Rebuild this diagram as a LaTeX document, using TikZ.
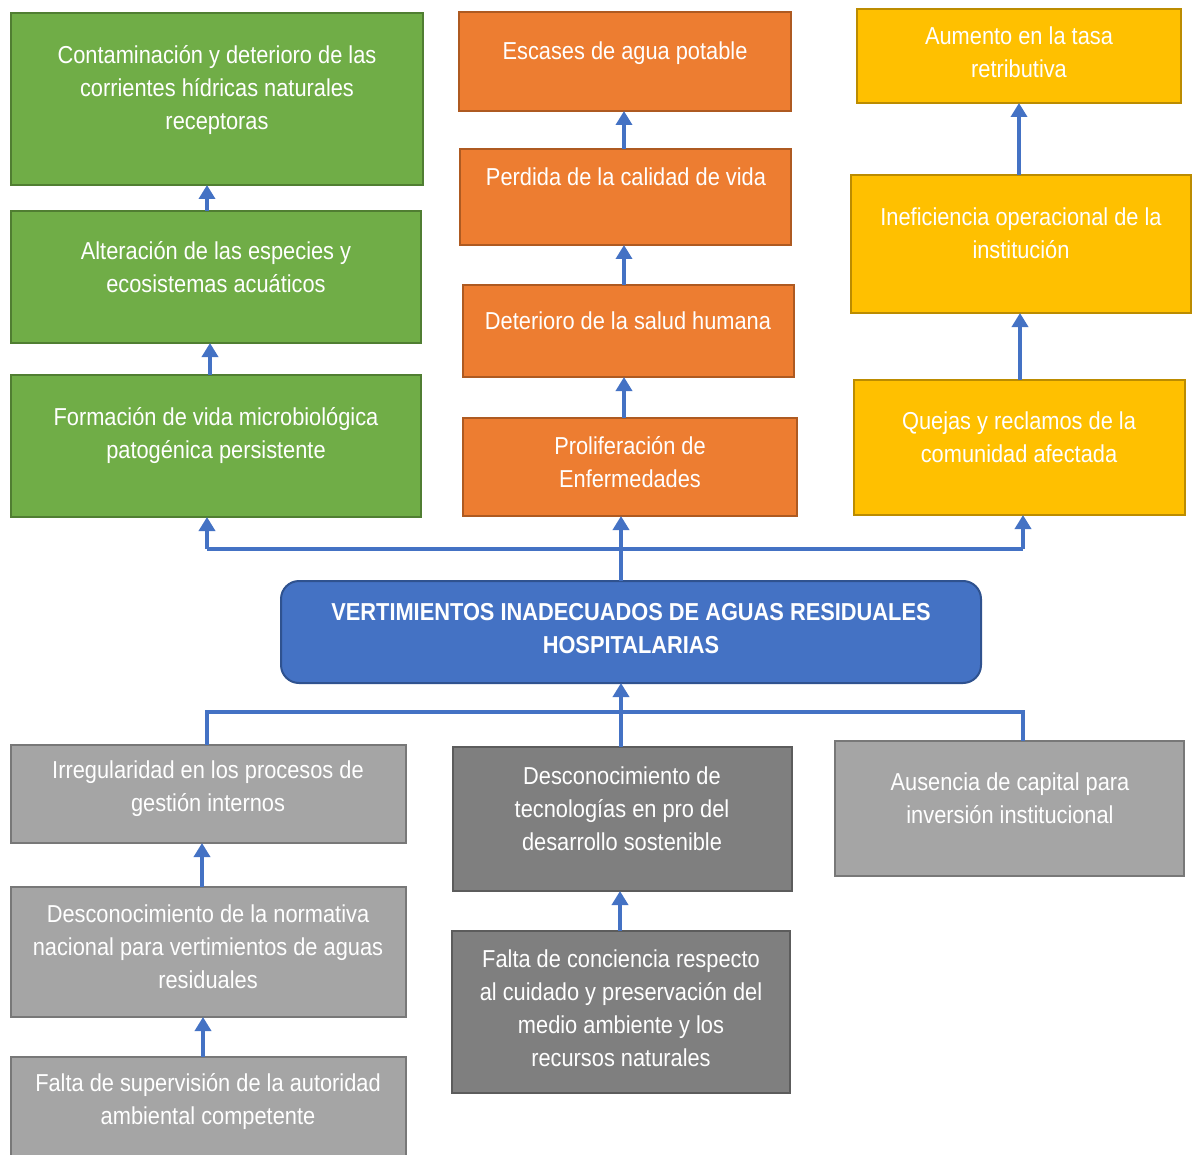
\documentclass[tikz,border=0pt]{standalone}
\usepackage{fontspec}
\setmainfont{Liberation Sans}[FakeStretch=0.89]
\usetikzlibrary{arrows.meta}
\definecolor{gfill}{HTML}{70AD47}\definecolor{gline}{HTML}{507E32}
\definecolor{ofill}{HTML}{ED7D31}\definecolor{oline}{HTML}{AE5A21}
\definecolor{yfill}{HTML}{FFC000}\definecolor{yline}{HTML}{BC8C00}
\definecolor{bfill}{HTML}{4472C4}\definecolor{bline}{HTML}{2F528F}
\definecolor{lgfill}{HTML}{A5A5A5}\definecolor{lgline}{HTML}{787878}
\definecolor{dgfill}{HTML}{7F7F7F}\definecolor{dgline}{HTML}{5C5C5C}
\definecolor{conncol}{HTML}{4472C4}
\tikzset{
  box/.style={draw, line width=2pt, inner sep=0pt, outer sep=0pt},
  green/.style={box, fill=gfill, draw=gline},
  orange/.style={box, fill=ofill, draw=oline},
  yellow/.style={box, fill=yfill, draw=yline},
  lgrey/.style={box, fill=lgfill, draw=lgline},
  dgrey/.style={box, fill=dgfill, draw=dgline},
  central/.style={box, fill=bfill, draw=bline, rounded corners=18pt},
  txt/.style={text=white, align=center, inner sep=0pt, font=\fontsize{24.5}{33}\selectfont},
  btxt/.style={txt, font=\fontsize{24.5}{33}\selectfont\bfseries},
  conn/.style={draw=conncol, line width=3.5pt},
  arr/.style={conn, -{Triangle[width=16pt,length=14pt]}},
}
\newcommand{\mybox}[6]{%
  \node[#2, minimum width={#5-#3}, minimum height={#6-#4}] (#1) at ({(#3+#5)/2},{(#4+#6)/2}) {};}
\begin{document}
\begin{tikzpicture}[x=1pt,y=-1pt]
\useasboundingbox (0,0) rectangle (1193,1155);
\clip (0,0) rectangle (1193,1155);
% green column
\mybox{g1}{green}{11}{13}{423}{185}
\mybox{g2}{green}{11}{211}{421}{343}
\mybox{g3}{green}{11}{375}{421}{517}
\node[txt] (tg1) at (217,90) {Contaminación y deterioro de las\\corrientes hídricas naturales\\receptoras};
\node[txt] (tg2) at (216,267) {Alteración de las especies y\\ecosistemas acuáticos};
\node[txt] (tg3) at (216,436) {Formación de vida microbiológica\\patogénica persistente};
% orange column
\mybox{o1}{orange}{459}{12}{791}{111}
\mybox{o2}{orange}{460}{149}{791}{245}
\mybox{o3}{orange}{463}{285}{794}{377}
\mybox{o4}{orange}{463}{418}{797}{516}
\node[txt] (to1) at (625,53) {Escases de agua potable};
\node[txt] (to2) at (626,177) {Perdida de la calidad de vida};
\node[txt] (to3) at (628,321) {Deterioro de la salud humana};
\node[txt] (to4) at (630,462) {Proliferación de\\Enfermedades};
% yellow column
\mybox{y1}{yellow}{857}{9}{1181}{103}
\mybox{y2}{yellow}{851}{175}{1191}{313}
\mybox{y3}{yellow}{854}{380}{1185}{515}
\node[txt] (ty1) at (1019,52) {Aumento en la tasa\\retributiva};
\node[txt] (ty2) at (1021,233) {Ineficiencia operacional de la\\institución};
\node[txt] (ty3) at (1019,437) {Quejas y reclamos de la\\comunidad afectada};
% central
\mybox{c}{central}{281}{581}{981}{683}
\node[btxt] (tc) at (631,629) {VERTIMIENTOS INADECUADOS DE AGUAS RESIDUALES\\HOSPITALARIAS};
% grey boxes
\mybox{b1}{lgrey}{11}{745}{406}{843}
\mybox{b2}{lgrey}{11}{887}{406}{1017}
\mybox{b3}{lgrey}{11}{1057}{406}{1175}
\mybox{b4}{lgrey}{835}{741}{1184}{876}
\mybox{d1}{dgrey}{453}{747}{792}{891}
\mybox{d2}{dgrey}{452}{931}{790}{1093}
\node[txt] (tb1) at (208,789) {Irregularidad en los procesos de\\gestión internos};
\node[txt] (tb2) at (208,947) {Desconocimiento de la normativa\\nacional para vertimientos de aguas\\residuales};
\node[txt] (tb3) at (208,1102) {Falta de supervisión de la autoridad\\ambiental competente};
\node[txt] (tb4) at (1010,798) {Ausencia de capital para\\inversión institucional};
\node[txt] (td1) at (622,809) {Desconocimiento de\\tecnologías en pro del\\desarrollo sostenible};
\node[txt] (td2) at (621,1008) {Falta de conciencia respecto\\al cuidado y preservación del\\medio ambiente y los\\recursos naturales};
% reference x-coordinates
\coordinate (xg1) at (207,0); \coordinate (xg2) at (210,0);
\coordinate (xo) at (624,0);
\coordinate (xy1) at (1019,0); \coordinate (xy2) at (1020,0);
\coordinate (xb1) at (202,0); \coordinate (xb2) at (203,0);
\coordinate (xd) at (620,0);
% arrows within columns
\draw[arr] (xg1 |- g2.north) -- (xg1 |- g1.south);
\draw[arr] (xg2 |- g3.north) -- (xg2 |- g2.south);
\draw[arr] (xo |- o2.north) -- (xo |- o1.south);
\draw[arr] (xo |- o3.north) -- (xo |- o2.south);
\draw[arr] (xo |- o4.north) -- (xo |- o3.south);
\draw[arr] (xy1 |- y2.north) -- (xy1 |- y1.south);
\draw[arr] (xy2 |- y3.north) -- (xy2 |- y2.south);
\draw[arr] (xb1 |- b2.north) -- (xb1 |- b1.south);
\draw[arr] (xb2 |- b3.north) -- (xb2 |- b2.south);
\draw[arr] (xd |- d2.north) -- (xd |- d1.south);
% top distribution
\coordinate (tl) at (207,549); \coordinate (tm) at (621,549); \coordinate (tr) at (1023,549);
\draw[conn] (tm |- c.north) -- (tm);
\draw[conn] (tl) -- (tr);
\draw[arr] (tl) -- (tl |- g3.south);
\draw[arr] (tm) -- (tm |- o4.south);
\draw[arr] (tr) -- (tr |- y3.south);
% bottom collection
\coordinate (bl) at (207,712); \coordinate (bm) at (621,712); \coordinate (br) at (1023,712);
\draw[conn] (bl |- b1.north) -- (bl) -- (br) -- (br |- b4.north);
\draw[conn] (bm |- d1.north) -- (bm);
\draw[arr] (bm) -- (bm |- c.south);
\end{tikzpicture}
\end{document}
